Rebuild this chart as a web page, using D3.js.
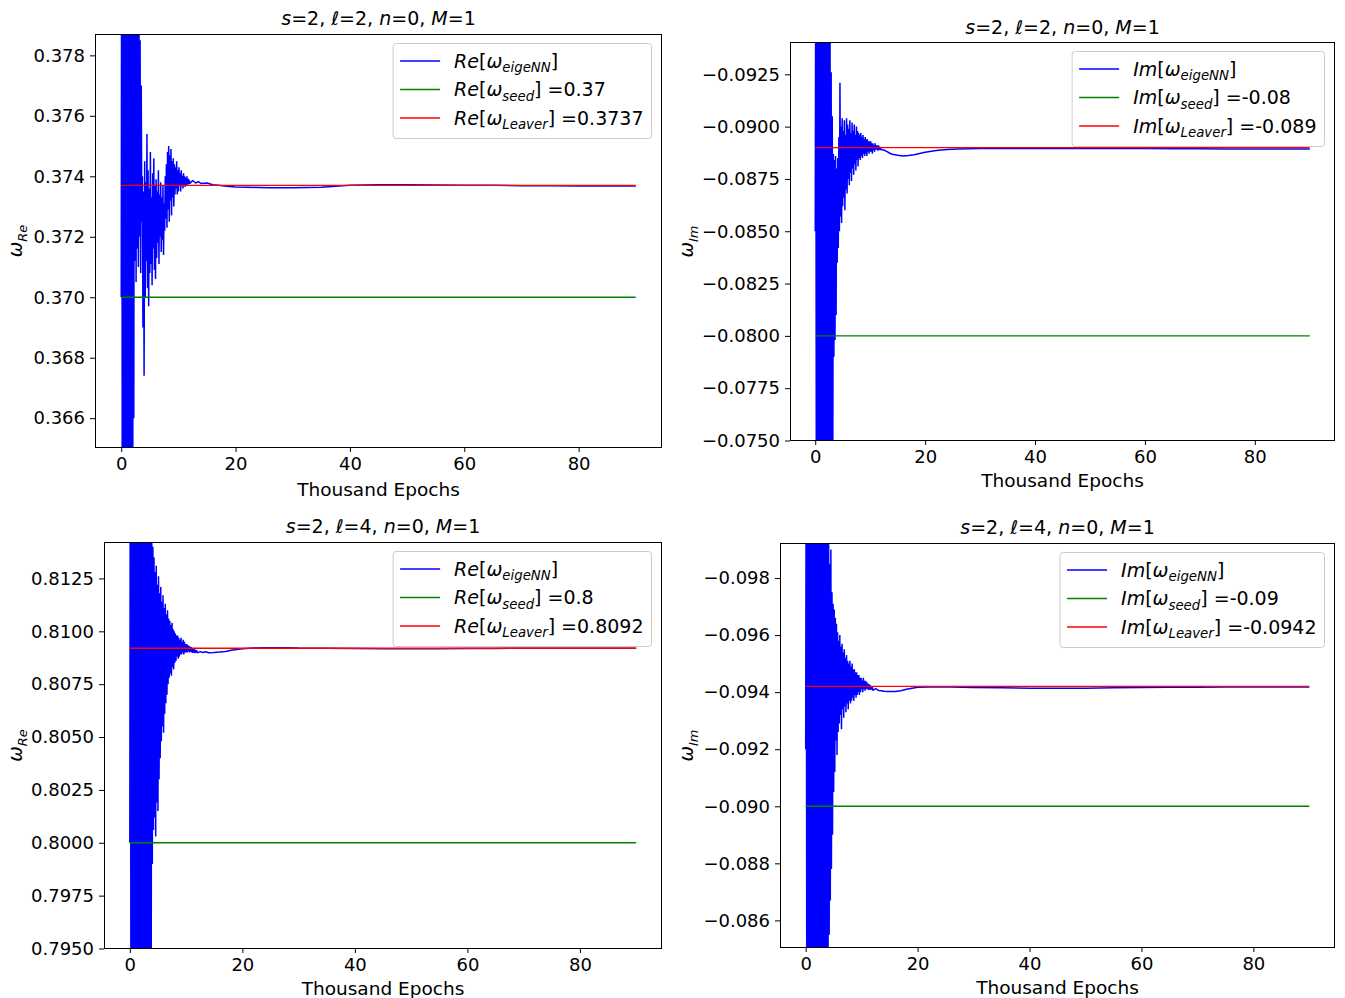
<!DOCTYPE html>
<html>
<head>
<meta charset="utf-8">
<script src="https://cdn.jsdelivr.net/npm/d3@7"></script>
<style>
  body { margin: 0; background: #fff; }
  svg { display: block; }
  text { font-family: "DejaVu Sans", sans-serif; white-space: pre; }
</style>
</head>
<body>
<svg id="fig" width="1345" height="998"></svg>
<script>
// Training epochs (thousands) at which the network eigenvalue was sampled
const epochs = [
  0, 0.1, 0.2, 0.3, 0.4, 0.5, 0.6, 0.7, 0.8, 0.9, 1,
  1.1, 1.2, 1.3, 1.4, 1.5, 1.6, 1.7, 1.8, 1.9, 2,
  2.1, 2.2, 2.3, 2.4, 2.5, 2.6, 2.7, 2.8, 2.9, 3,
  3.1, 3.2, 3.3, 3.4, 3.5, 3.6, 3.7, 3.8, 3.9, 4,
  4.1, 4.2, 4.3, 4.4, 4.5, 4.6, 4.7, 4.8, 4.9, 5,
  5.1, 5.2, 5.3, 5.4, 5.5, 5.6, 5.7, 5.8, 5.9, 6,
  6.1, 6.2, 6.3, 6.4, 6.5, 6.6, 6.7, 6.8, 6.9, 7,
  7.1, 7.2, 7.3, 7.4, 7.5, 7.6, 7.7, 7.8, 7.9, 8,
  8.1, 8.2, 8.3, 8.4, 8.5, 8.6, 8.7, 8.8, 8.9, 9,
  9.1, 9.2, 9.3, 9.4, 9.5, 9.6, 9.7, 9.8, 9.9, 10,
  10.1, 10.2, 10.3, 10.4, 10.5, 10.6, 10.7, 10.8, 10.9, 11,
  11.1, 11.2, 11.3, 11.4, 11.5, 11.6, 11.7, 11.8, 11.9, 12,
  12.5, 13, 13.5, 14,
  15, 16, 17, 18, 19, 20, 22, 24, 26, 28, 30, 35, 40, 45, 50, 55, 60, 65, 70, 75, 80, 85, 90
];

// Re[omega] for s=2, l=2, n=0
const reEigeNN_l2 = [
  0.3700, 0.3880, 0.3560, 0.3920, 0.3520, 0.3950, 0.3540, 0.3910, 0.3500, 0.3900, 0.3560,
  0.3890, 0.3540, 0.3880, 0.3570, 0.3875, 0.3560, 0.3870, 0.3590, 0.3860, 0.3580,
  0.3850, 0.3660, 0.3830, 0.3712, 0.3815, 0.3705, 0.3800, 0.3716, 0.3790, 0.3710,
  0.3795, 0.3720, 0.3785, 0.3708, 0.3770, 0.3725, 0.3740, 0.3690, 0.3735, 0.3674,
  0.3745, 0.3700, 0.3738, 0.3712, 0.3754, 0.3703, 0.3742, 0.3697, 0.3736, 0.3708,
  0.3748, 0.3711, 0.3733, 0.3704, 0.3741, 0.3716, 0.3746, 0.3709, 0.3737, 0.3706,
  0.3739, 0.3713, 0.3735, 0.3718, 0.3742, 0.3711, 0.3734, 0.3720, 0.3738, 0.3715,
  0.3733, 0.3719, 0.3737, 0.3714, 0.3731, 0.3722, 0.3740, 0.3726, 0.3744, 0.3723,
  0.3748, 0.3729, 0.3750, 0.3725, 0.3747, 0.3732, 0.3749, 0.3727, 0.3745, 0.3733,
  0.3746, 0.3730, 0.3744, 0.3734, 0.3743, 0.3736, 0.3745, 0.3734, 0.3742, 0.3735,
  0.3743, 0.3737, 0.3741, 0.3735, 0.3742, 0.3737, 0.3740, 0.3736, 0.3741, 0.3737,
  0.37400, 0.37365, 0.37395, 0.37370, 0.37400, 0.37372, 0.37392, 0.37374, 0.37388, 0.37376,
  0.37386, 0.37378, 0.37382, 0.37376,
  0.37378, 0.37372, 0.37370, 0.37368, 0.37366, 0.37365, 0.37364, 0.37363, 0.37362, 0.37362,
  0.37362, 0.37364, 0.37370, 0.37372, 0.37372, 0.37371, 0.37370, 0.37370, 0.37369, 0.37369,
  0.37368, 0.37368, 0.37368
];

// Im[omega] for s=2, l=2, n=0
const imEigeNN_l2 = [
  -0.0850, -0.0990, -0.0720, -0.1000, -0.0700, -0.0995, -0.0710, -0.1000, -0.0705, -0.0990, -0.0715,
  -0.0985, -0.0710, -0.0980, -0.0720, -0.0985, -0.0715, -0.0990, -0.0720, -0.0980, -0.0710,
  -0.0975, -0.0720, -0.0965, -0.0730, -0.0950, -0.0715, -0.0940, -0.0735, -0.0926, -0.0725,
  -0.0905, -0.0740, -0.0887, -0.0790, -0.0884, -0.0798, -0.0886, -0.0810, -0.0880, -0.0835,
  -0.0885, -0.0842, -0.0895, -0.0850, -0.0921, -0.0857, -0.0900, -0.0854, -0.0904, -0.0862,
  -0.0898, -0.0866, -0.0903, -0.0860, -0.0896, -0.0870, -0.0904, -0.0868, -0.0901, -0.0875,
  -0.0899, -0.0872, -0.0903, -0.0878, -0.0897, -0.0874, -0.0902, -0.0880, -0.0898, -0.0877,
  -0.0901, -0.0882, -0.0896, -0.0879, -0.0900, -0.0884, -0.0898, -0.0881, -0.0897, -0.0885,
  -0.0896, -0.0884, -0.0897, -0.0886, -0.0895, -0.0885, -0.0896, -0.0887, -0.0894, -0.0886,
  -0.0895, -0.0887, -0.0894, -0.0886, -0.0894, -0.0888, -0.0893, -0.0887, -0.0893, -0.0888,
  -0.0893, -0.0888, -0.0892, -0.0887, -0.0892, -0.0889, -0.0891, -0.0888, -0.0892, -0.0889,
  -0.08910, -0.08890, -0.08910, -0.08885, -0.08910, -0.08890, -0.08905, -0.08888, -0.08902, -0.08890,
  -0.08888, -0.08882, -0.08874, -0.08868,
  -0.08863, -0.08860, -0.08862, -0.08866, -0.08872, -0.08878, -0.08886, -0.08891, -0.08893, -0.08894,
  -0.08895, -0.08896, -0.08896, -0.08896, -0.08896, -0.08895, -0.08895, -0.08894, -0.08894, -0.08893,
  -0.08893, -0.08893, -0.08893
];

// Re[omega] for s=2, l=4, n=0
const reEigeNN_l4 = [
  0.8000, 0.8240, 0.7910, 0.8250, 0.7900, 0.8260, 0.7880, 0.8245, 0.7895, 0.8240, 0.7920,
  0.8235, 0.7900, 0.8230, 0.7890, 0.8228, 0.7905, 0.8220, 0.7895, 0.8218, 0.7910,
  0.8215, 0.7905, 0.8205, 0.7925, 0.8200, 0.7900, 0.8190, 0.7930, 0.8185, 0.7915,
  0.8180, 0.7935, 0.8175, 0.7920, 0.8170, 0.7940, 0.8165, 0.7930, 0.8150, 0.7990,
  0.8140, 0.8006, 0.8135, 0.8012, 0.8128, 0.8003, 0.8131, 0.8019, 0.8122, 0.8015,
  0.8126, 0.8030, 0.8118, 0.8040, 0.8121, 0.8048, 0.8114, 0.8055, 0.8117, 0.8052,
  0.8111, 0.8061, 0.8113, 0.8066, 0.8108, 0.8070, 0.8110, 0.8075, 0.8106, 0.8078,
  0.8105, 0.8080, 0.8103, 0.8079, 0.8104, 0.8083, 0.8101, 0.8082, 0.8100, 0.8085,
  0.8099, 0.8086, 0.8098, 0.8088, 0.8098, 0.8087, 0.8097, 0.8088, 0.8096, 0.8089,
  0.8097, 0.8089, 0.8095, 0.8090, 0.8096, 0.8089, 0.8095, 0.8090, 0.8094, 0.8090,
  0.80940, 0.80900, 0.80935, 0.80905, 0.80930, 0.80900, 0.80928, 0.80902, 0.80925, 0.80900,
  0.80922, 0.80898, 0.80918, 0.80900, 0.80915, 0.80897, 0.80912, 0.80899, 0.80910, 0.80898,
  0.80904, 0.80900, 0.80903, 0.80899,
  0.80900, 0.80902, 0.80905, 0.80910, 0.80914, 0.80918, 0.80921, 0.80922, 0.80922, 0.80922,
  0.80921, 0.80920, 0.80919, 0.80918, 0.80918, 0.80918, 0.80919, 0.80919, 0.80920, 0.80920,
  0.80920, 0.80920, 0.80920
];

// Im[omega] for s=2, l=4, n=0
const imEigeNN_l4 = [
  -0.0920, -0.1040, -0.0810, -0.1050, -0.0800, -0.1045, -0.0805, -0.1040, -0.0810, -0.1060, -0.0790,
  -0.1050, -0.0800, -0.1030, -0.0820, -0.1035, -0.0810, -0.1040, -0.0815, -0.1030, -0.0800,
  -0.1025, -0.0815, -0.1030, -0.0805, -0.1020, -0.0825, -0.1015, -0.0810, -0.1010, -0.0830,
  -0.1005, -0.0820, -0.1002, -0.0835, -0.1000, -0.0828, -0.0998, -0.0840, -0.0995, -0.0848,
  -0.0992, -0.0855, -0.0985, -0.0867, -0.0990, -0.0878, -0.0975, -0.0890, -0.0971, -0.0905,
  -0.0969, -0.0912, -0.0966, -0.0923, -0.0964, -0.0918, -0.0961, -0.0926, -0.0958, -0.0929,
  -0.0960, -0.0932, -0.0956, -0.0927, -0.0957, -0.0934, -0.0954, -0.0931, -0.0955, -0.0935,
  -0.0952, -0.0933, -0.0953, -0.0936, -0.0951, -0.0934, -0.0950, -0.0937, -0.0951, -0.0936,
  -0.0949, -0.0937, -0.0950, -0.0938, -0.0948, -0.0937, -0.0948, -0.0939, -0.0947, -0.0938,
  -0.0947, -0.0939, -0.0946, -0.0940, -0.0946, -0.0939, -0.0945, -0.0940, -0.0945, -0.0941,
  -0.09440, -0.09400, -0.09450, -0.09410, -0.09440, -0.09405, -0.09440, -0.09410, -0.09435, -0.09412,
  -0.09430, -0.09408, -0.09428, -0.09410, -0.09425, -0.09408, -0.09420, -0.09410, -0.09418, -0.09406,
  -0.09412, -0.09406, -0.09405, -0.09403,
  -0.09402, -0.09402, -0.09405, -0.09410, -0.09414, -0.09417, -0.09418, -0.09418, -0.09418, -0.09417,
  -0.09416, -0.09415, -0.09414, -0.09414, -0.09414, -0.09415, -0.09416, -0.09417, -0.09417, -0.09418,
  -0.09418, -0.09418, -0.09418
];

// Reference values: initial seed and Leaver's continued-fraction result
const seedValues   = [0.37, -0.08, 0.8, -0.09];
const leaverValues = [0.3737, -0.089, 0.8092, -0.0942];
const ellValues    = [2, 2, 4, 4];
const parts        = ["Re", "Im", "Re", "Im"];

// Tick values and labels
const xTicks = [0, 20, 40, 60, 80];
const yTicksRe2 = [0.366, 0.368, 0.370, 0.372, 0.374, 0.376, 0.378];
const yTickLabelsRe2 = ["0.366", "0.368", "0.370", "0.372", "0.374", "0.376", "0.378"];
const yTicksIm2 = [-0.0925, -0.0900, -0.0875, -0.0850, -0.0825, -0.0800, -0.0775, -0.0750];
const yTickLabelsIm2 = ["\u22120.0925", "\u22120.0900", "\u22120.0875", "\u22120.0850", "\u22120.0825", "\u22120.0800", "\u22120.0775", "\u22120.0750"];
const yTicksRe4 = [0.7950, 0.7975, 0.8000, 0.8025, 0.8050, 0.8075, 0.8100, 0.8125];
const yTickLabelsRe4 = ["0.7950", "0.7975", "0.8000", "0.8025", "0.8050", "0.8075", "0.8100", "0.8125"];
const yTicksIm4 = [-0.098, -0.096, -0.094, -0.092, -0.090, -0.088, -0.086];
const yTickLabelsIm4 = ["\u22120.098", "\u22120.096", "\u22120.094", "\u22120.092", "\u22120.090", "\u22120.088", "\u22120.086"];

// y limits, given as [bottom of axes, top of axes] (Im panels run inverted)
const yLimits = [
  [0.36503, 0.37869],
  [-0.0750, -0.09402],
  [0.7950, 0.8142],
  [-0.08505, -0.09921]
];
const xLimits = [-4.5, 94.5];

const series = [reEigeNN_l2, imEigeNN_l2, reEigeNN_l4, imEigeNN_l4];
const yTickSets = [yTicksRe2, yTicksIm2, yTicksRe4, yTicksIm4];
const yTickLabelSets = [yTickLabelsRe2, yTickLabelsIm2, yTickLabelsRe4, yTickLabelsIm4];

// Axes frames on the page
const frames = [
  { left: 95.5,  top: 34.5,  right: 661.5,  bottom: 447.5, titleY: 24.5,  xLabelY: 496,   yLabelX: 22 },
  { left: 790.5, top: 42.5,  right: 1334.5, bottom: 440.5, titleY: 33.5,  xLabelY: 486.5, yLabelX: 693 },
  { left: 104.5, top: 542.5, right: 661.5,  bottom: 948.5, titleY: 532.5, xLabelY: 994.5, yLabelX: 22 },
  { left: 780.5, top: 543.5, right: 1334.5, bottom: 947.5, titleY: 533.5, xLabelY: 993.5, yLabelX: 693 }
];

const FS = 18;      // tick labels
const FS_L = 18.5;  // axis labels
const FS_M = 19;    // titles and legend entries
const BLUE = "#0000ff", GREEN = "#008000", RED = "#ff0000";
const svg = d3.select("#fig");
svg.append("rect").attr("width", 1345).attr("height", 998).attr("fill", "#fff");

// Write a mathtext-like label into a <text>: italic symbols and lowered subscripts
function mathText(textSel, pieces, size) {
  let shift = 0;
  pieces.forEach(p => {
    const ts = textSel.append("tspan").text(p.t);
    if (p.i) ts.attr("font-style", "italic");
    const target = p.sub ? size * 0.26 : 0;
    if (target !== shift) { ts.attr("dy", target - shift); shift = target; }
    if (p.sub) ts.attr("font-size", size * 0.7);
  });
  return textSel;
}

frames.forEach((f, k) => {
  const x = d3.scaleLinear().domain(xLimits).range([f.left, f.right]);
  const y = d3.scaleLinear().domain(yLimits[k]).range([f.bottom, f.top]);
  const g = svg.append("g");

  const clipId = "clip" + k;
  svg.append("clipPath").attr("id", clipId)
    .append("rect").attr("x", f.left).attr("y", f.top)
    .attr("width", f.right - f.left).attr("height", f.bottom - f.top);

  const plot = g.append("g").attr("clip-path", `url(#${clipId})`);
  const line = d3.line().x(d => x(d[0])).y(d => y(d[1]));

  plot.append("path")
    .datum(epochs.map((t, i) => [t, series[k][i]]))
    .attr("d", line).attr("fill", "none")
    .attr("stroke", BLUE).attr("stroke-width", 1.5).attr("stroke-linejoin", "bevel");

  const t0 = epochs[0], t1 = epochs[epochs.length - 1];
  plot.append("path").datum([[t0, seedValues[k]], [t1, seedValues[k]]])
    .attr("d", line).attr("fill", "none").attr("stroke", GREEN).attr("stroke-width", 1.3);
  plot.append("path").datum([[t0, leaverValues[k]], [t1, leaverValues[k]]])
    .attr("d", line).attr("fill", "none").attr("stroke", RED).attr("stroke-width", 1.3);

  // Axes
  const xAxis = d3.axisBottom(x).tickValues(xTicks).tickFormat(d3.format("d"))
    .tickSizeOuter(0).tickSize(5).tickPadding(5);
  const gx = g.append("g").attr("transform", `translate(0,${f.bottom - 0.5})`).call(xAxis);
  const yAxis = d3.axisLeft(y).tickValues(yTickSets[k])
    .tickFormat((d, i) => yTickLabelSets[k][i]).tickSizeOuter(0).tickSize(5).tickPadding(5);
  const gy = g.append("g").attr("transform", `translate(${f.left - 0.5},0)`).call(yAxis);
  [gx, gy].forEach(a => {
    a.select(".domain").remove();
    a.selectAll("text").attr("font-size", FS).attr("font-family", "DejaVu Sans").attr("fill", "#000");
    a.selectAll("line").attr("stroke", "#000").attr("stroke-width", 1);
  });

  // Frame
  g.append("rect").attr("x", f.left).attr("y", f.top)
    .attr("width", f.right - f.left).attr("height", f.bottom - f.top)
    .attr("fill", "none").attr("stroke", "#000").attr("stroke-width", 1);

  // Title
  const title = g.append("text").attr("x", (f.left + f.right) / 2).attr("y", f.titleY)
    .attr("text-anchor", "middle").attr("font-size", FS_M);
  mathText(title, [
    { t: "s", i: true }, { t: "=2, " }, { t: "\u2113", i: true }, { t: "=" + ellValues[k] + ", " },
    { t: "n", i: true }, { t: "=0, " }, { t: "M", i: true }, { t: "=1" }
  ], FS_M);

  // Axis labels
  g.append("text").attr("x", (f.left + f.right) / 2).attr("y", f.xLabelY)
    .attr("text-anchor", "middle").attr("font-size", FS_L).text("Thousand Epochs");
  const yl = g.append("text")
    .attr("transform", `translate(${f.yLabelX},${(f.top + f.bottom) / 2}) rotate(-90)`)
    .attr("text-anchor", "middle").attr("font-size", FS_L);
  mathText(yl, [{ t: "\u03c9", i: true }, { t: parts[k], i: true, sub: true }], FS_L);

  // Legend
  const P = parts[k];
  const entries = [
    { color: BLUE,  pieces: [{ t: P, i: true }, { t: "[" }, { t: "\u03c9", i: true }, { t: "eigeNN", i: true, sub: true }, { t: "]" }] },
    { color: GREEN, pieces: [{ t: P, i: true }, { t: "[" }, { t: "\u03c9", i: true }, { t: "seed", i: true, sub: true }, { t: "]" }, { t: " =" + seedValues[k] }] },
    { color: RED,   pieces: [{ t: P, i: true }, { t: "[" }, { t: "\u03c9", i: true }, { t: "Leaver", i: true, sub: true }, { t: "]" }, { t: " =" + leaverValues[k] }] }
  ];
  const leg = g.append("g");
  const box = leg.append("rect");
  const rowY = [17.5, 46, 74.5];
  let maxW = 0;
  const items = entries.map((e, j) => {
    const ln = leg.append("line").attr("stroke", e.color).attr("stroke-width", 1.3);
    const tx = leg.append("text").attr("font-size", FS_M);
    mathText(tx, e.pieces, FS_M);
    maxW = Math.max(maxW, tx.node().getBBox().width);
    return { ln, tx, j };
  });
  const boxW = 61 + maxW + 8, boxH = 95;
  const bx = f.right - 10 - boxW, by = f.top + 9;
  box.attr("x", bx).attr("y", by).attr("width", boxW).attr("height", boxH)
    .attr("rx", 3).attr("fill", "#fff").attr("fill-opacity", 0.8)
    .attr("stroke", "#cccccc").attr("stroke-width", 1);
  items.forEach(it => {
    const cy = by + rowY[it.j];
    it.ln.attr("x1", bx + 7).attr("x2", bx + 47).attr("y1", cy).attr("y2", cy);
    it.tx.attr("x", bx + 61).attr("y", cy + 6.5);
  });
});
</script>
</body>
</html>
